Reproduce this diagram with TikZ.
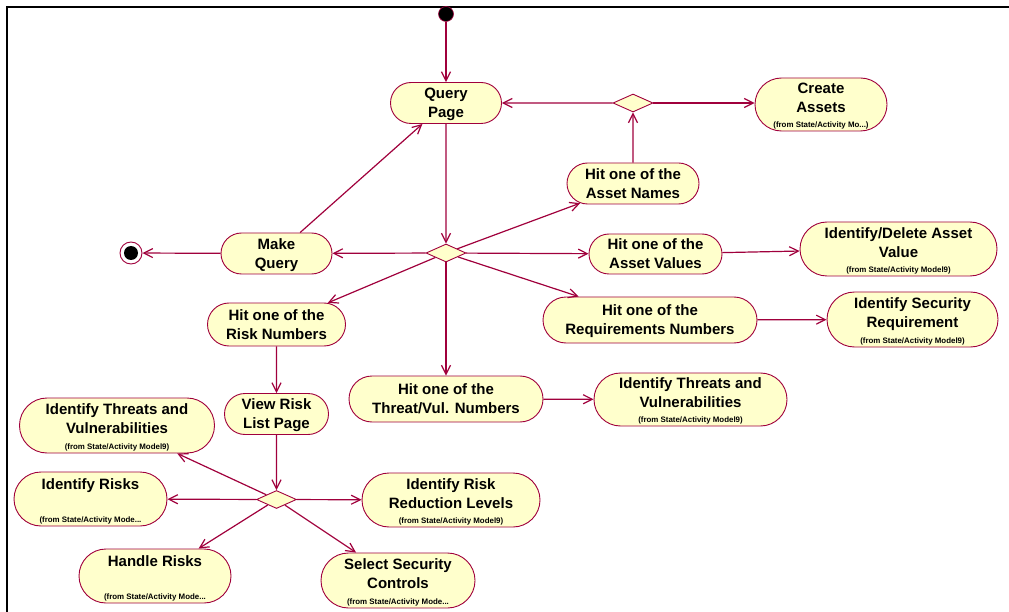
\documentclass[tikz,border=0pt]{standalone}
\usepackage{fontspec}
\setmainfont{Liberation Sans}
\usetikzlibrary{shapes.misc,shapes.geometric,arrows.meta}
\definecolor{flow}{RGB}{160,0,60}
\definecolor{actfill}{RGB}{255,255,204}
\begin{document}
\begin{tikzpicture}[x=1pt,y=-1pt,
  act/.style={rounded rectangle, draw=flow, line width=0.9pt, fill=actfill,
    inner sep=0pt, align=center, font=\fontsize{15}{19}\selectfont\bfseries,
    text height=29.8pt, text depth=0pt},
  withorigin/.style={text depth=13pt},
  oneline/.style={text height=10.8pt, text depth=30pt},
  origin/.style={anchor=south, inner sep=0pt, yshift=4pt,
    font=\fontsize{7.9}{9}\selectfont\bfseries, text height=5.6pt, text depth=0pt},
  decision/.style={diamond, draw=flow, line width=0.9pt, fill=actfill,
    minimum width=40pt, minimum height=18pt, inner sep=0pt},
  flowline/.style={draw=flow, line width=1.2pt,
    -{Straight Barb[length=9pt,width=9pt]}},
]
\useasboundingbox (0,0) rectangle (1009,612);

% frame
\draw[line width=2.6pt] (7,612) -- (7,7) -- (1009,7);

% start and end
\node[circle, fill=black, draw=flow, line width=0.6pt, minimum size=15pt, inner sep=0pt] (start) at (446,14) {};
\node[circle, draw=flow, line width=0.9pt, fill=white, minimum size=22pt, inner sep=0pt,
  path picture={\fill[black] (path picture bounding box.center) circle (7pt);}] (stop) at (131,253) {};

% query loop
\node[act, minimum width=111pt, minimum height=41pt] (qp) at (446,103) {Query\\Page};
\node[decision] (dq) at (633,103) {};
\node[act, withorigin, minimum width=132pt, minimum height=53pt,
  label={[origin]south:(from State/Activity Mo...)}] (ca) at (821,104.5) {Create\\Assets};
\node[act, minimum width=132pt, minimum height=41pt] (han) at (633,183.5) {Hit one of the\\Asset Names};
\node[decision] (dm) at (446,253) {};
\node[act, minimum width=111pt, minimum height=41pt] (mq) at (276.5,253.5) {Make\\Query};

% hits from the query page
\node[act, minimum width=133pt, minimum height=40pt] (hav) at (655.5,254) {Hit one of the\\Asset Values};
\node[act, withorigin, minimum width=197pt, minimum height=54pt,
  label={[origin]south:(from State/Activity Model9)}] (idav) at (898.5,249) {Identify/Delete Asset\\Value};
\node[act, minimum width=214pt, minimum height=46pt] (hreq) at (650,320) {Hit one of the\\Requirements Numbers};
\node[act, withorigin, minimum width=171pt, minimum height=55pt,
  label={[origin]south:(from State/Activity Model9)}] (isr) at (912.5,319.5) {Identify Security\\Requirement};
\node[act, minimum width=194pt, minimum height=46pt] (htv) at (446,399) {Hit one of the\\Threat/Vul. Numbers};
\node[act, withorigin, minimum width=193pt, minimum height=53pt,
  label={[origin]south:(from State/Activity Model9)}] (itvr) at (690.5,399.5) {Identify Threats and\\Vulnerabilities};
\node[act, minimum width=138pt, minimum height=43pt] (hrn) at (276.5,324.5) {Hit one of the\\Risk Numbers};

% risk list branch
\node[act, minimum width=104pt, minimum height=41pt] (vrl) at (276.5,414) {View Risk\\List Page};
\node[decision] (dr) at (276.5,499.5) {};
\node[act, withorigin, minimum width=195pt, minimum height=55pt,
  label={[origin]south:(from State/Activity Model9)}] (itvl) at (117,425.5) {Identify Threats and\\Vulnerabilities};
\node[act, oneline, minimum width=153pt, minimum height=54pt,
  label={[origin]south:(from State/Activity Mode...}] (ir) at (90.5,499) {Identify Risks};
\node[act, withorigin, minimum width=178pt, minimum height=54pt,
  label={[origin]south:(from State/Activity Model9)}] (irr) at (451,500) {Identify Risk\\Reduction Levels};
\node[act, oneline, minimum width=152pt, minimum height=54pt,
  label={[origin]south:(from State/Activity Mode...}] (hr) at (155,576) {Handle Risks};
\node[act, withorigin, minimum width=154pt, minimum height=55pt,
  label={[origin]south:(from State/Activity Mode...}] (ssc) at (398,580.5) {Select Security\\Controls};

% transitions
\draw[flowline] (start) -- (qp);
\draw[flowline] (qp) -- (dm);
\draw[flowline] (dq) -- (qp);
\draw[flowline] (dq) -- (dq -| ca.west);
\draw[flowline] (han) -- (dq);
\draw[flowline] (dm) -- (han);
\draw[flowline] (dm) -- (mq);
\draw[flowline] (mq) -- (stop);
\draw[flowline] (mq) -- (qp);
\draw[flowline] (dm) -- (hav);
\draw[flowline] (dm) -- (hreq);
\draw[flowline] (dm) -- (hrn);
\draw[flowline] (dm) -- (htv);
\draw[flowline] (hav) -- (idav);
\draw[flowline] (hreq) -- (isr);
\draw[flowline] (htv) -- (itvr);
\draw[flowline] (hrn) -- (vrl);
\draw[flowline] (vrl) -- (dr);
\draw[flowline] (dr) -- (itvl);
\draw[flowline] (dr) -- (ir);
\draw[flowline] (dr) -- (irr);
\draw[flowline] (dr) -- (hr);
\draw[flowline] (dr) -- (ssc);
\end{tikzpicture}
\end{document}
